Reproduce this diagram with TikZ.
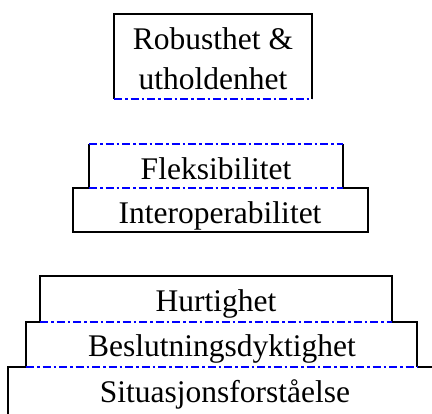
\documentclass[tikz,border=0pt]{standalone}
\usepackage{fontspec}
\setmainfont{Liberation Serif}
\begin{document}
\begin{tikzpicture}[x=1pt,y=-1pt,
  edge/.style={line width=1.6pt, black},
  seam/.style={line width=2pt, blue, dash pattern=on 8pt off 3pt on 2.5pt off 3pt},
  tier/.style={inner sep=0pt, anchor=base, font=\fontsize{31.5}{36}\selectfont}]
\useasboundingbox (0,0) rectangle (432,414);

% top block
\coordinate (rA) at (114,14);  \coordinate (rB) at (312,99);
\draw[edge] (rA |- rB) -- (rA) -- (rB |- rA) -- (rB);
\draw[seam] (rA |- rB) -- (rB);
\node[tier] (rob) at (213,50) {Robusthet \&};
\node[tier] (uth) at (213,90) {utholdenhet};

% middle pair
\coordinate (fA) at (89,144);  \coordinate (fB) at (343,188);
\coordinate (iA) at (73,188);  \coordinate (iB) at (368,232);
\draw[edge] (fA) -- (fA |- fB);
\draw[edge] (fB |- fA) -- (fB);
\draw[edge] (fA |- fB) -- (iA) -- (iA |- iB) -- (iB) -- (iB |- iA) -- (fB);
\draw[seam] (fA) -- (fB |- fA);
\draw[seam] (fA |- fB) -- (fB);
\node[tier] (flek) at (216,180) {Fleksibilitet};
\node[tier] (inter) at (220,224) {Interoperabilitet};

% bottom stack
\coordinate (hA) at (40,276);  \coordinate (hB) at (392,322);
\coordinate (bA) at (26,322);  \coordinate (bB) at (417,367);
\coordinate (sA) at (8,367);   \coordinate (sB) at (432,414);
\draw[edge] (hA |- hB) -- (hA) -- (hB |- hA) -- (hB);
\draw[edge] (hA |- hB) -- (bA) -- (bA |- bB);
\draw[edge] (hB) -- (bB |- bA) -- (bB);
\draw[edge] (bA |- bB) -- (sA) -- (sA |- sB);
\draw[edge] (bB) -- (sB |- sA);
\draw[seam] (hA |- hB) -- (hB);
\draw[seam] (bA |- bB) -- (bB);
\node[tier] (hurt) at (216,312) {Hurtighet};
\node[tier] (besl) at (222,357) {Beslutningsdyktighet};
\node[tier] (sit) at (225,403) {Situasjonsforståelse};
\end{tikzpicture}
\end{document}
